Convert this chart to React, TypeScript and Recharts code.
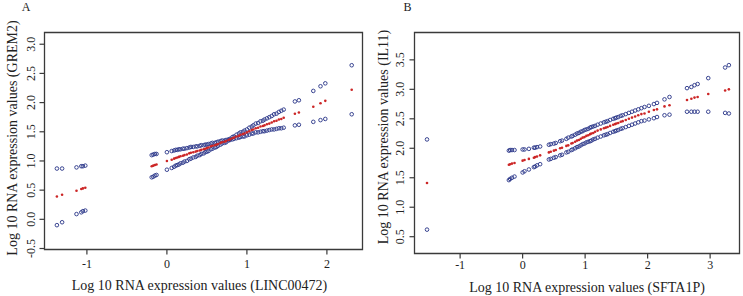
import React from 'react';
import { ScatterChart, Scatter, XAxis, YAxis, Label, ReferenceArea } from 'recharts';

// ---------- Panel A : LINC00472 vs GREM2 ----------
const aX = [-1.375, -1.31, -1.13, -1.07, -1.05, -1.02,
  -0.19, -0.17, -0.15, -0.13, 0.0,
  0.06, 0.09, 0.11, 0.13, 0.15, 0.17,
  0.2, 0.22, 0.25, 0.28, 0.3, 0.33, 0.36, 0.38,
  0.41, 0.43, 0.46, 0.48, 0.5, 0.52, 0.55, 0.57,
  0.6, 0.62, 0.64, 0.67, 0.69, 0.72, 0.74, 0.77, 0.79,
  0.82, 0.84, 0.87, 0.9, 0.92, 0.95, 0.97,
  1.0, 1.03, 1.06, 1.08, 1.11, 1.14, 1.17,
  1.2, 1.22, 1.25, 1.28, 1.31, 1.34, 1.37, 1.4, 1.43, 1.46,
  1.6, 1.65, 1.83, 1.92, 1.98, 2.31];
const aFit = [0.39, 0.42, 0.49, 0.52, 0.53, 0.54,
  0.91, 0.92, 0.93, 0.94, 1.0,
  1.02, 1.04, 1.05, 1.06, 1.07, 1.08,
  1.09, 1.1, 1.11, 1.13, 1.14, 1.15, 1.16, 1.17,
  1.18, 1.19, 1.2, 1.21, 1.22, 1.23, 1.25, 1.26,
  1.27, 1.28, 1.29, 1.31, 1.32, 1.33, 1.34, 1.36, 1.37,
  1.39, 1.4, 1.42, 1.43, 1.45, 1.46, 1.47,
  1.49, 1.51, 1.53, 1.54, 1.56, 1.57, 1.59,
  1.6, 1.61, 1.63, 1.64, 1.66, 1.68, 1.69, 1.71, 1.72, 1.74,
  1.81, 1.83, 1.93, 1.99, 2.03, 2.22];
const aUpper = [0.87, 0.87, 0.89, 0.91, 0.91, 0.92,
  1.1, 1.11, 1.12, 1.12, 1.15,
  1.17, 1.18, 1.19, 1.19, 1.2, 1.2,
  1.21, 1.21, 1.22, 1.23, 1.24, 1.24, 1.25, 1.25,
  1.26, 1.27, 1.27, 1.28, 1.28, 1.29, 1.3, 1.31,
  1.31, 1.32, 1.33, 1.34, 1.35, 1.35, 1.36, 1.37, 1.38,
  1.41, 1.42, 1.45, 1.47, 1.49, 1.5, 1.52,
  1.54, 1.57, 1.59, 1.61, 1.64, 1.65, 1.68,
  1.69, 1.71, 1.73, 1.75, 1.77, 1.8, 1.81, 1.84, 1.86, 1.88,
  2.02, 2.04, 2.2, 2.28, 2.33, 2.64];
const aLower = [-0.1, -0.05, 0.09, 0.12, 0.14, 0.15,
  0.72, 0.73, 0.75, 0.76, 0.85,
  0.88, 0.9, 0.92, 0.93, 0.94, 0.96,
  0.97, 0.99, 1.0, 1.03, 1.04, 1.06, 1.07, 1.09,
  1.1, 1.12, 1.13, 1.15, 1.16, 1.17, 1.2, 1.21,
  1.23, 1.24, 1.26, 1.28, 1.3, 1.31, 1.32, 1.35, 1.36,
  1.37, 1.38, 1.39, 1.4, 1.41, 1.42, 1.42,
  1.44, 1.45, 1.47, 1.47, 1.49, 1.49, 1.5,
  1.51, 1.51, 1.52, 1.53, 1.54, 1.54, 1.55, 1.56, 1.56, 1.57,
  1.61, 1.62, 1.67, 1.7, 1.72, 1.8];
const aXTicks = [-1, 0, 1, 2];
const aYTicks = [-0.5, 0, 0.5, 1, 1.5, 2, 2.5, 3];

// ---------- Panel B : SFTA1P vs IL11 ----------
const bX = [-1.53,
  -0.22, -0.2, -0.17, -0.13,
  0.0, 0.03, 0.1, 0.18, 0.2, 0.23, 0.28,
  0.42, 0.45, 0.5, 0.53, 0.6, 0.63, 0.7, 0.73, 0.78, 0.8,
  0.84, 0.87, 0.9, 0.93, 0.96, 0.99, 1.02, 1.05, 1.08, 1.1,
  1.13, 1.16, 1.2, 1.25, 1.3, 1.33, 1.36, 1.4, 1.45, 1.48,
  1.5, 1.53, 1.57, 1.6, 1.65, 1.7, 1.75, 1.8, 1.85, 1.9,
  1.95, 2.02, 2.1, 2.15, 2.27, 2.35,
  2.63, 2.7, 2.75, 2.8, 2.97, 3.24, 3.3];
const bUpper = [2.15,
  1.96, 1.97, 1.97, 1.97,
  1.98, 1.98, 1.99, 2.01, 2.01, 2.02, 2.03,
  2.06, 2.07, 2.08, 2.09, 2.12, 2.13, 2.16, 2.18, 2.2, 2.21,
  2.23, 2.25, 2.26, 2.28, 2.29, 2.31, 2.32, 2.33, 2.35, 2.36,
  2.37, 2.38, 2.4, 2.42, 2.44, 2.45, 2.46, 2.48, 2.5, 2.51,
  2.52, 2.53, 2.55, 2.56, 2.58, 2.6, 2.62, 2.64, 2.66, 2.68,
  2.7, 2.72, 2.75, 2.77, 2.83, 2.87,
  3.02, 3.04, 3.07, 3.09, 3.19, 3.37, 3.41];
const bFit = [1.41,
  1.72, 1.73, 1.74, 1.75,
  1.79, 1.8, 1.82, 1.84, 1.85, 1.86, 1.88,
  1.93, 1.94, 1.96, 1.97, 2.0, 2.01, 2.04, 2.05, 2.08, 2.09,
  2.11, 2.13, 2.14, 2.16, 2.18, 2.19, 2.21, 2.22, 2.24, 2.25,
  2.26, 2.28, 2.3, 2.32, 2.34, 2.35, 2.36, 2.38, 2.4, 2.41,
  2.42, 2.43, 2.45, 2.46, 2.48, 2.5, 2.52, 2.54, 2.56, 2.58,
  2.59, 2.62, 2.65, 2.66, 2.71, 2.73,
  2.82, 2.84, 2.86, 2.87, 2.92, 2.98, 3.0];
const bLower = [0.62,
  1.46, 1.48, 1.5, 1.52,
  1.59, 1.61, 1.64, 1.68, 1.69, 1.71, 1.73,
  1.81, 1.82, 1.84, 1.85, 1.88, 1.89, 1.93, 1.94, 1.97, 1.98,
  2.0, 2.02, 2.03, 2.05, 2.07, 2.08, 2.1, 2.11, 2.12, 2.13,
  2.15, 2.16, 2.18, 2.2, 2.22, 2.23, 2.24, 2.26, 2.28, 2.29,
  2.3, 2.31, 2.33, 2.34, 2.36, 2.38, 2.4, 2.42, 2.44, 2.46,
  2.47, 2.49, 2.51, 2.53, 2.56, 2.57,
  2.62, 2.62, 2.62, 2.62, 2.62, 2.6, 2.59];
const bXTicks = [-1, 0, 1, 2, 3];
const bYTicks = [0.5, 1, 1.5, 2, 2.5, 3, 3.5];

const FONT = '"Liberation Serif", "Times New Roman", Times, serif';
const AXIS = '#3a3a3a';
const TEXT = '#222222';
const BLUE = '#303c8c';
const RED = '#cc2626';
const TICK_LEN = 5;
const TICK_GAP = 2;

const pts = (xs: number[], ys: number[]) => xs.map((x, i) => ({ x, y: ys[i] }));

const Ring = (p: any) => (
  <circle cx={p.cx} cy={p.cy} r={1.8} fill="none" stroke={BLUE} strokeWidth={0.95} />
);
const Dot = (p: any) => <circle cx={p.cx} cy={p.cy} r={1.3} fill={RED} />;

type PanelProps = {
  left: number; width: number;
  margin: { top: number; right: number; bottom: number; left: number };
  yAxisWidth: number; xAxisHeight: number;
  xDomain: [number, number]; yDomain: [number, number];
  xTicks: number[]; yTicks: number[];
  xs: number[]; fit: number[]; upper: number[]; lower: number[];
  xTitle: string; yTitle: string;
  xTickDy: number; xTitleDy: number; xTitleDx: number;
  yTickDx: number; yTitleDx: number; yTitleDy: number;
};

function Panel(P: PanelProps) {
  const xTick = (p: any) => (
    <g>
      <line x1={p.x} x2={p.x} y1={p.y - TICK_GAP - TICK_LEN} y2={p.y - TICK_GAP}
        stroke={AXIS} strokeWidth={1.2} />
      <text x={p.x} y={p.y + P.xTickDy} textAnchor="middle" dominantBaseline="central"
        fontFamily={FONT} fontSize={12} fill={TEXT}>{String(p.payload.value)}</text>
    </g>
  );
  const yTick = (p: any) => {
    const x = p.x - P.yTickDx;
    return (
      <g>
        <line x1={p.x + TICK_GAP} x2={p.x + TICK_GAP + TICK_LEN} y1={p.y} y2={p.y}
          stroke={AXIS} strokeWidth={1.2} />
        <text x={x} y={p.y} transform={`rotate(-90, ${x}, ${p.y})`} textAnchor="middle"
          dominantBaseline="central" fontFamily={FONT} fontSize={12} fill={TEXT}>
          {Number(p.payload.value).toFixed(1)}
        </text>
      </g>
    );
  };
  const xTitle = (p: any) => {
    const vb = p.viewBox;
    return (
      <text x={vb.x + vb.width / 2 + P.xTitleDx} y={vb.y + P.xTitleDy} textAnchor="middle"
        dominantBaseline="central" fontFamily={FONT} fontSize={14} fill={TEXT}>{P.xTitle}</text>
    );
  };
  const yTitle = (p: any) => {
    const vb = p.viewBox;
    const x = vb.x + P.yTitleDx;
    const y = vb.y + vb.height / 2 + P.yTitleDy;
    return (
      <text x={x} y={y} transform={`rotate(-90, ${x}, ${y})`} textAnchor="middle"
        dominantBaseline="central" fontFamily={FONT} fontSize={14} fill={TEXT}>{P.yTitle}</text>
    );
  };
  return (
    <div style={{ position: 'absolute', left: P.left, top: 0 }}>
      <ScatterChart width={P.width} height={296} margin={P.margin}>
        <XAxis type="number" dataKey="x" domain={P.xDomain} ticks={P.xTicks} allowDataOverflow
          interval={0} tickSize={TICK_LEN} tickMargin={TICK_GAP} height={P.xAxisHeight} stroke={AXIS}
          axisLine={false} tickLine={false} tick={xTick}>
          <Label content={xTitle} />
        </XAxis>
        <YAxis type="number" dataKey="y" domain={P.yDomain} ticks={P.yTicks} allowDataOverflow
          interval={0} tickSize={TICK_LEN} tickMargin={TICK_GAP} width={P.yAxisWidth} stroke={AXIS}
          axisLine={false} tickLine={false} tick={yTick}>
          <Label content={yTitle} />
        </YAxis>
        <ReferenceArea x1={P.xDomain[0]} x2={P.xDomain[1]} y1={P.yDomain[0]} y2={P.yDomain[1]}
          fill="none" fillOpacity={0} stroke={AXIS} strokeWidth={1.3} strokeOpacity={1} ifOverflow="visible" />
        <Scatter data={pts(P.xs, P.upper)} shape={Ring} isAnimationActive={false} />
        <Scatter data={pts(P.xs, P.lower)} shape={Ring} isAnimationActive={false} />
        <Scatter data={pts(P.xs, P.fit)} shape={Dot} isAnimationActive={false} />
      </ScatterChart>
    </div>
  );
}

export default function App() {
  return (
    <div style={{ position: 'absolute', left: 0, top: 0, width: 743, height: 296, background: '#fff' }}>
      <Panel left={0} width={370}
        margin={{ top: 32.5, right: 7.5, bottom: 0, left: 0 }}
        yAxisWidth={44.5} xAxisHeight={46.5}
        xDomain={[-1.53, 2.445]} yDomain={[-0.517, 3.201]}
        xTicks={aXTicks} yTicks={aYTicks}
        xs={aX} fit={aFit} upper={aUpper} lower={aLower}
        xTitle="Log 10 RNA expression values (LINC00472)"
        yTitle="Log 10 RNA expression values (GREM2)"
        xTickDy={7} xTitleDy={36} xTitleDx={-4}
        yTickDx={6.5} yTitleDx={12} yTitleDy={-3} />
      <Panel left={370} width={373}
        margin={{ top: 32.5, right: 3.5, bottom: 0, left: 0 }}
        yAxisWidth={44.5} xAxisHeight={42.5}
        xDomain={[-1.73, 3.47]} yDomain={[0.215, 3.964]}
        xTicks={bXTicks} yTicks={bYTicks}
        xs={bX} fit={bFit} upper={bUpper} lower={bLower}
        xTitle="Log 10 RNA expression values (SFTA1P)"
        yTitle="Log 10 RNA expression values (IL11)"
        xTickDy={4.5} xTitleDy={34} xTitleDx={10}
        yTickDx={7.5} yTitleDx={13} yTitleDy={-6} />
      <svg width={743} height={296} style={{ position: 'absolute', left: 0, top: 0, pointerEvents: 'none' }}>
        <text x={26} y={11} textAnchor="middle" fontFamily={FONT} fontSize={12} fill={TEXT}>A</text>
        <text x={407.5} y={11} textAnchor="middle" fontFamily={FONT} fontSize={12} fill={TEXT}>B</text>
      </svg>
    </div>
  );
}
